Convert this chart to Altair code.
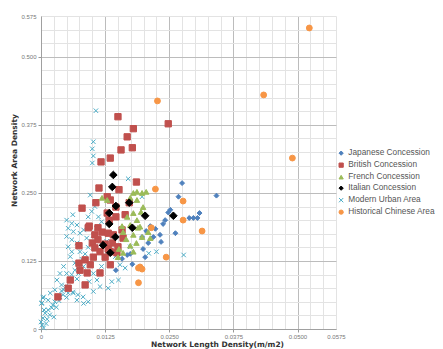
import altair as alt
import pandas as pd

series_names = ["Japanese Concession", "British Concession", "French Concession",
                "Italian Concession", "Modern Urban Area", "Historical Chinese Area"]
series_colors = ["#4F81BD", "#C0504D", "#9BBB59", "#000000", "#4BACC6", "#F79646"]
X_PATH = "M-1,-1L1,1M-1,1L1,-1"
series_shapes = ["diamond", "square", "triangle-up", "diamond", X_PATH, "circle"]
series_sizes = [24, 40, 30, 58, 20, 34]
draw_order = [2, 3, 4, 5, 1, 6]

x_ticks = [0, 0.0025, 0.005, 0.0075, 0.01, 0.0125, 0.015, 0.0175, 0.02, 0.0225, 0.025, 0.0275,
           0.03, 0.0325, 0.035, 0.0375, 0.04, 0.0425, 0.045, 0.0475, 0.05, 0.0525, 0.055, 0.0575]
y_ticks = [0, 0.025, 0.05, 0.075, 0.1, 0.125, 0.15, 0.175, 0.2, 0.225, 0.25, 0.275,
           0.3, 0.325, 0.35, 0.375, 0.4, 0.425, 0.45, 0.475, 0.5, 0.525, 0.55, 0.575]

jp_x = [0.0275, 0.0268, 0.0342, 0.0252, 0.0248, 0.0309, 0.0289, 0.0305, 0.0242, 0.0238, 0.0213, 0.0205,
        0.0262, 0.0232, 0.0219, 0.0234, 0.0209, 0.0199, 0.0203, 0.0174, 0.0168, 0.0158, 0.0178, 0.0146,
        0.0223, 0.0197, 0.0297]
jp_y = [0.268, 0.243, 0.245, 0.219, 0.214, 0.213, 0.204, 0.204, 0.200, 0.193, 0.189, 0.180,
        0.176, 0.173, 0.169, 0.160, 0.158, 0.147, 0.132, 0.138, 0.136, 0.129, 0.119, 0.108,
        0.184, 0.169, 0.204]

br_x = [0.0150, 0.0248, 0.0180, 0.0168, 0.0156, 0.0178, 0.0117, 0.0135, 0.0186, 0.0113, 0.0152, 0.0129,
        0.0080, 0.0107, 0.0135, 0.0146, 0.0172, 0.0164, 0.0146, 0.0094, 0.0111, 0.0119, 0.0105, 0.0131,
        0.0141, 0.0100, 0.0074, 0.0111, 0.0139, 0.0150, 0.0115, 0.0135, 0.0148, 0.0125, 0.0105, 0.0102,
        0.0086, 0.0074, 0.0096, 0.0076, 0.0090, 0.0115, 0.0135, 0.0057, 0.0086, 0.0053, 0.0033, 0.0129,
        0.0133, 0.0092, 0.0125, 0.0131, 0.0160, 0.0158]
br_y = [0.390, 0.377, 0.368, 0.353, 0.329, 0.333, 0.307, 0.314, 0.270, 0.259, 0.256, 0.243,
        0.222, 0.232, 0.237, 0.224, 0.232, 0.210, 0.206, 0.189, 0.186, 0.178, 0.173, 0.176,
        0.173, 0.158, 0.153, 0.164, 0.158, 0.151, 0.142, 0.142, 0.140, 0.132, 0.149, 0.132,
        0.127, 0.121, 0.118, 0.108, 0.103, 0.103, 0.118, 0.090, 0.081, 0.075, 0.059, 0.213,
        0.200, 0.186, 0.156, 0.147, 0.167, 0.182]

fr_x = [0.0119, 0.0129, 0.0180, 0.0187, 0.0197, 0.0205, 0.0174, 0.0187, 0.0199, 0.0195, 0.0180, 0.0168,
        0.0187, 0.0158, 0.0174, 0.0193, 0.0160, 0.0180, 0.0197, 0.0209, 0.0166, 0.0186, 0.0174, 0.0152,
        0.0160, 0.0150, 0.0180, 0.0189, 0.0213]
fr_y = [0.241, 0.237, 0.250, 0.252, 0.250, 0.252, 0.241, 0.237, 0.224, 0.215, 0.213, 0.206,
        0.200, 0.189, 0.191, 0.188, 0.178, 0.173, 0.169, 0.178, 0.165, 0.158, 0.153, 0.147,
        0.140, 0.132, 0.142, 0.186, 0.167]

it_x = [0.0141, 0.0139, 0.0146, 0.0172, 0.0133, 0.0203, 0.0258, 0.0133, 0.0178, 0.0145, 0.0121, 0.0135]
it_y = [0.283, 0.261, 0.226, 0.232, 0.213, 0.208, 0.208, 0.193, 0.186, 0.169, 0.154, 0.140]

mu_x = [0.0050, 0.0060, 0.0070, 0.0053, 0.0063, 0.0050, 0.0060, 0.0070, 0.0053, 0.0060, 0.0057, 0.0076,
        0.0083, 0.0092, 0.0099, 0.0105, 0.0112, 0.0118, 0.0089, 0.0076, 0.0066, 0.0044, 0.0037, 0.0050,
        0.0031, 0.0040, 0.0027, 0.0018, 0.0005, 0.0001, 0.0014, 0.0044, 0.0063, 0.0070, 0.0083, 0.0092,
        0.0102, 0.0115, 0.0131, 0.0138, 0.0151, 0.0164, 0.0154, 0.0210, 0.0225, 0.0278, 0.0128, 0.0145,
        0.0094, 0.0102, 0.0118, 0.0083, 0.0073, 0.0109,
        0.0107, 0.0102, 0.0100, 0.0102, 0.0100, 0.0170, 0.0096, 0.0062, 0.0197, 0.0174,
        0.0000, 0.0002, 0.0004, 0.0008, 0.0014, 0.0021, 0.0023, 0.0027, 0.0031, 0.0037, 0.0002, 0.0004,
        0.0043, 0.0053, 0.0062, 0.0072, 0.0082,
        0.0005, 0.0010, 0.0012, 0.0006, 0.0017, 0.0030, 0.0035, 0.0040, 0.0048, 0.0055, 0.0060, 0.0066,
        0.0072, 0.0080, 0.0086, 0.0092, 0.0098, 0.0102, 0.0108, 0.0078, 0.0070, 0.0050, 0.0025]
mu_y = [0.200, 0.194, 0.191, 0.185, 0.179, 0.170, 0.164, 0.158, 0.151, 0.142, 0.133, 0.176,
        0.182, 0.206, 0.216, 0.225, 0.206, 0.197, 0.167, 0.142, 0.121, 0.115, 0.102, 0.102,
        0.090, 0.081, 0.072, 0.066, 0.059, 0.047, 0.053, 0.072, 0.066, 0.053, 0.047, 0.050,
        0.069, 0.078, 0.075, 0.087, 0.090, 0.112, 0.118, 0.139, 0.142, 0.136, 0.161, 0.133,
        0.087, 0.102, 0.115, 0.115, 0.102, 0.090,
        0.401, 0.344, 0.331, 0.318, 0.305, 0.276, 0.246, 0.210, 0.243, 0.151,
        0.013, 0.007, 0.020, 0.029, 0.035, 0.039, 0.044, 0.050, 0.057, 0.059, 0.048, 0.057,
        0.063, 0.066, 0.068, 0.063, 0.059,
        0.002, 0.010, 0.018, 0.035, 0.026, 0.040, 0.052, 0.070, 0.078, 0.090, 0.100, 0.108,
        0.118, 0.128, 0.138, 0.150, 0.160, 0.172, 0.185, 0.110, 0.092, 0.058, 0.022]

hc_x = [0.0523, 0.0434, 0.0490, 0.0227, 0.0223, 0.0277, 0.0277, 0.0314, 0.0215, 0.0244, 0.0193, 0.0190,
        0.0197, 0.0190]
hc_y = [0.553, 0.430, 0.314, 0.419, 0.257, 0.235, 0.200, 0.180, 0.186, 0.132, 0.114, 0.112,
        0.110, 0.085]

groups = [jp_x, br_x, fr_x, it_x, mu_x, hc_x]
groups_y = [jp_y, br_y, fr_y, it_y, mu_y, hc_y]
rows = []
for name, xs, ys in zip(series_names, groups, groups_y):
    for xv, yv in zip(xs, ys):
        rows.append({"series": name, "x": xv, "y": yv})
df = pd.DataFrame(rows)

size_expr = ""
order_expr = ""
for name, s, o in zip(series_names, series_sizes, draw_order):
    size_expr += f"datum.series == '{name}' ? {s} : "
    order_expr += f"datum.series == '{name}' ? {o} : "
size_expr += "20"
order_expr += "0"

x_major = "abs(datum.value/0.0125 - round(datum.value/0.0125)) < 0.001"
y_major = "abs(datum.value/0.125 - round(datum.value/0.125)) < 0.001"

FONT = "Liberation Sans"
TITLE_FONT = "DejaVu Sans"

def make_axis(title, values, major, fmt, last, label_pad, title_pad, **kw):
    return alt.Axis(
        title=title, values=values,
        labelExpr=f"datum.value == 0 ? '0' : (({major}) || datum.value > {last}) ? format(datum.value, '{fmt}') : ''",
        labelFont=FONT, labelFontSize=6, labelColor="#777",
        titleFont=TITLE_FONT, titleFontSize=7.5, titleFontWeight="bold", titleColor="#333",
        grid=True,
        gridColor={"condition": {"test": major, "value": "#bcbcbc"}, "value": "#e3e3e3"},
        gridWidth=1,
        tickColor={"condition": {"test": major, "value": "#999"}, "value": "transparent"},
        tickSize=3, domainColor="#a0a0a0", labelPadding=label_pad, titlePadding=title_pad,
        labelOverlap=False, labelFlush=False, **kw
    )

legend = alt.Legend(
    title=None, orient="none", legendX=296, legendY=133,
    labelFont=FONT, labelFontSize=8.3, labelColor="#555",
    symbolSize=18, symbolStrokeWidth=1, rowPadding=2, labelOffset=3,
)

color_scale = alt.Scale(domain=series_names, range=series_colors)

chart = alt.Chart(df).transform_calculate(
    sz=size_expr, ord=order_expr
).mark_point(filled=True, strokeWidth=1, opacity=1).encode(
    x=alt.X("x:Q", scale=alt.Scale(domain=[0, 0.0575], nice=False, zero=True),
            axis=make_axis("Network Length Density(m/m2)", x_ticks, x_major, ".4f", 0.057, 1, 1,
                           titleX=176)),
    y=alt.Y("y:Q", scale=alt.Scale(domain=[0, 0.575], nice=False, zero=True),
            axis=make_axis("Network Area Density", y_ticks, y_major, ".3f", 0.57, 2, 2,
                           titleY=144)),
    color=alt.Color("series:N", scale=color_scale, legend=legend),
    shape=alt.Shape("series:N", scale=alt.Scale(domain=series_names, range=series_shapes), legend=legend),
    stroke=alt.Stroke("series:N", scale=color_scale, legend=legend),
    size=alt.Size("sz:Q", scale=None, legend=None),
    order=alt.Order("ord:Q"),
).properties(
    width=295, height=313,
    autosize=alt.AutoSizeParams(type="none"),
    padding={"left": 33, "top": 8, "right": 99, "bottom": 20},
).configure_view(strokeWidth=0)

chart.save("out.html", embed_options={"renderer": "svg", "actions": False})
